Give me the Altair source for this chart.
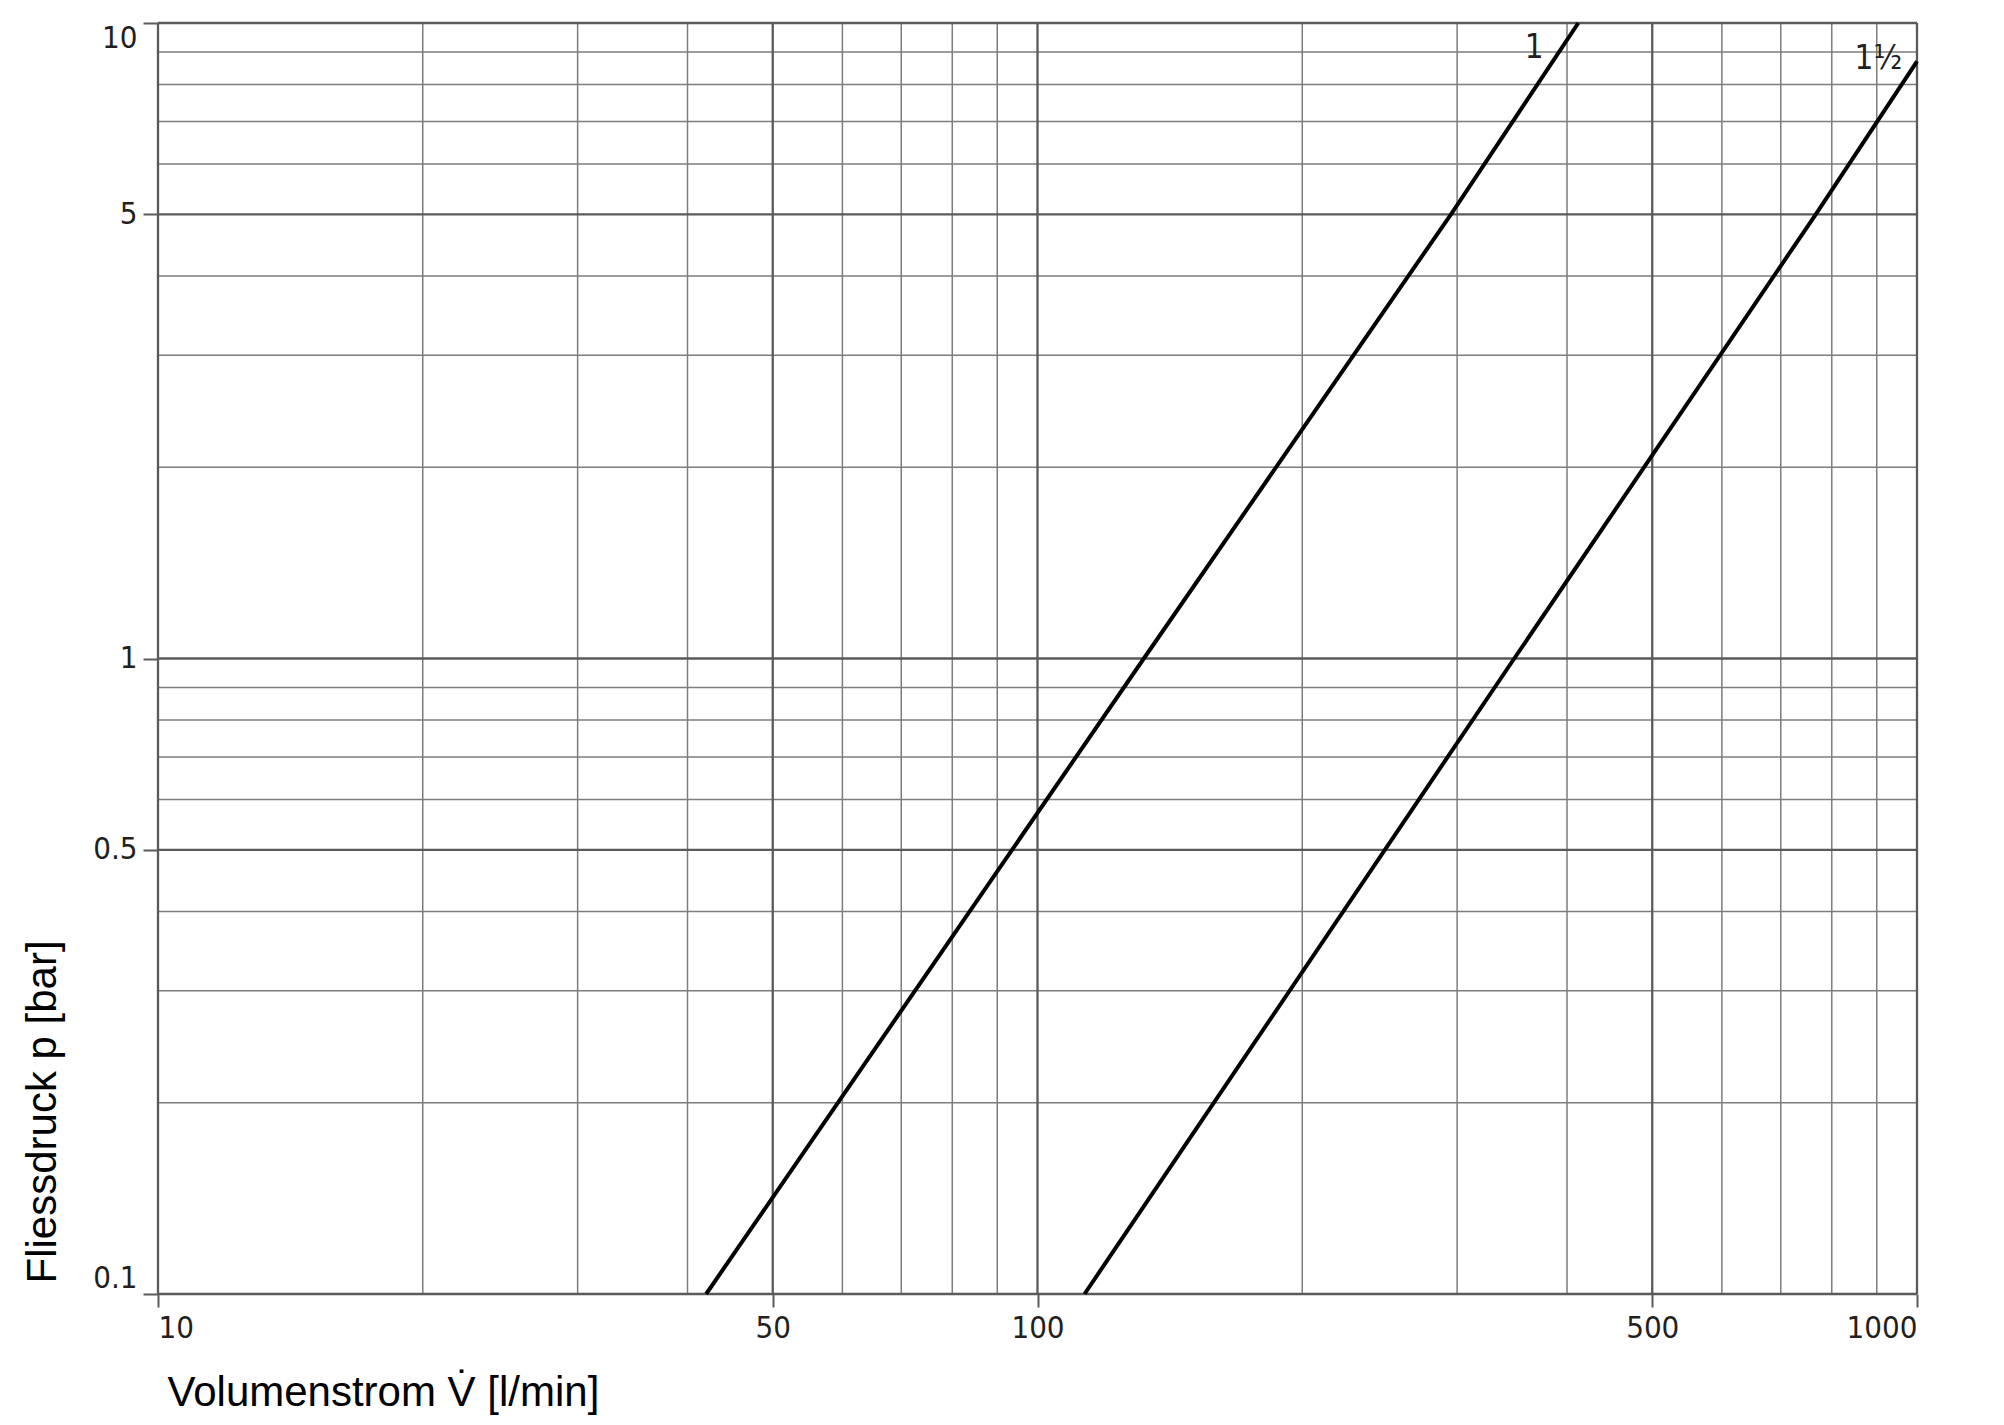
import altair as alt
import pandas as pd

# grid values
x_minor = [20, 30, 40, 60, 70, 80, 90, 200, 300, 400, 600, 700, 800, 900]
x_major = [10, 50, 100, 500, 1000]
y_minor = [0.2, 0.3, 0.4, 0.6, 0.7, 0.8, 0.9, 2, 3, 4, 6, 7, 8, 9]
y_major = [0.1, 0.5, 1, 5, 10]

# curves
curve1_V = [42.0, 132.1, 295.2, 412.0]
curve1_p = [0.1, 1.0, 5.0, 10.0]
curve2_V = [113.1, 348.4, 767.2, 1000.0]
curve2_p = [0.1, 1.0, 5.0, 8.7]

# curve labels
label_text = ["1", "1½"]
label_V = [367, 904]
label_p = [8.81, 8.47]

W, H = 1759, 1271
LABEL_FONT = "'Liberation Sans Narrow', 'DejaVu Sans Condensed', 'Open Sans', sans-serif"
TITLE_FONT = "Liberation Sans"

xs = alt.Scale(type="log", domain=[10, 1000], nice=False)
ys = alt.Scale(type="log", domain=[0.1, 10], nice=False)

curves = pd.DataFrame({
    "V": curve1_V + curve2_V,
    "p": curve1_p + curve2_p,
    "series": ["1"] * len(curve1_V) + ["1½"] * len(curve2_V),
})
labels = pd.DataFrame({"V": label_V, "p": label_p, "t": label_text})

x_axis = alt.Axis(
    values=x_major, format="~g", title="Volumenstrom V\u0307 [l/min]",
    grid=False, domain=False, tickSize=13, tickWidth=2, tickColor="#5a5a5a",
    labelFont=LABEL_FONT, labelFontSize=31, labelColor="#231f20",
    labelPadding=6, labelFlush=True,
    titleFont=TITLE_FONT, titleFontSize=42, titleFontWeight="normal",
    titleColor="#000000", titleAlign="left", titleBaseline="alphabetic",
    titleX=9, titleY=111,
)
y_axis = alt.Axis(
    values=y_major, format="~g", title="Fliessdruck p [bar]",
    grid=False, domain=False, tickSize=15, tickWidth=2, tickColor="#5a5a5a",
    labelFont=LABEL_FONT, labelFontSize=31, labelColor="#231f20",
    labelPadding=6, labelFlush=True,
    titleFont=TITLE_FONT, titleFontSize=42, titleFontWeight="normal",
    titleColor="#000000", titleAngle=270, titleAlign="left",
    titleBaseline="alphabetic", titleX=-103, titleY=1260,
)

vminor = alt.Chart(pd.DataFrame({"V": x_minor})).mark_rule(
    color="#7d7d7d", strokeWidth=1.5
).encode(x=alt.X("V:Q", scale=xs, axis=x_axis))
vmajor = alt.Chart(pd.DataFrame({"V": x_major})).mark_rule(
    color="#5a5a5a", strokeWidth=2.3
).encode(x=alt.X("V:Q", scale=xs, axis=x_axis))
hminor = alt.Chart(pd.DataFrame({"p": y_minor})).mark_rule(
    color="#7d7d7d", strokeWidth=1.5
).encode(y=alt.Y("p:Q", scale=ys, axis=y_axis))
hmajor = alt.Chart(pd.DataFrame({"p": y_major})).mark_rule(
    color="#5a5a5a", strokeWidth=2.3
).encode(y=alt.Y("p:Q", scale=ys, axis=y_axis))

lines = alt.Chart(curves).mark_line(color="black", strokeWidth=4, strokeCap="butt").encode(
    x=alt.X("V:Q", scale=xs, axis=x_axis),
    y=alt.Y("p:Q", scale=ys, axis=y_axis),
    detail="series:N",
)

texts = alt.Chart(labels).mark_text(
    font=LABEL_FONT, fontSize=33, color="#231f20", align="center", baseline="alphabetic"
).encode(
    x=alt.X("V:Q", scale=xs, axis=x_axis),
    y=alt.Y("p:Q", scale=ys, axis=y_axis),
    text="t:N",
)

chart = alt.layer(vminor, hminor, vmajor, hmajor, lines, texts).properties(
    width=W, height=H,
    autosize=alt.AutoSizeParams(type="none"),
    padding={"left": 150, "top": 15, "right": 40, "bottom": 125},
).configure_view(stroke=None).configure(background="white")

chart.save("out.html", embed_options={"renderer": "svg", "actions": False})
